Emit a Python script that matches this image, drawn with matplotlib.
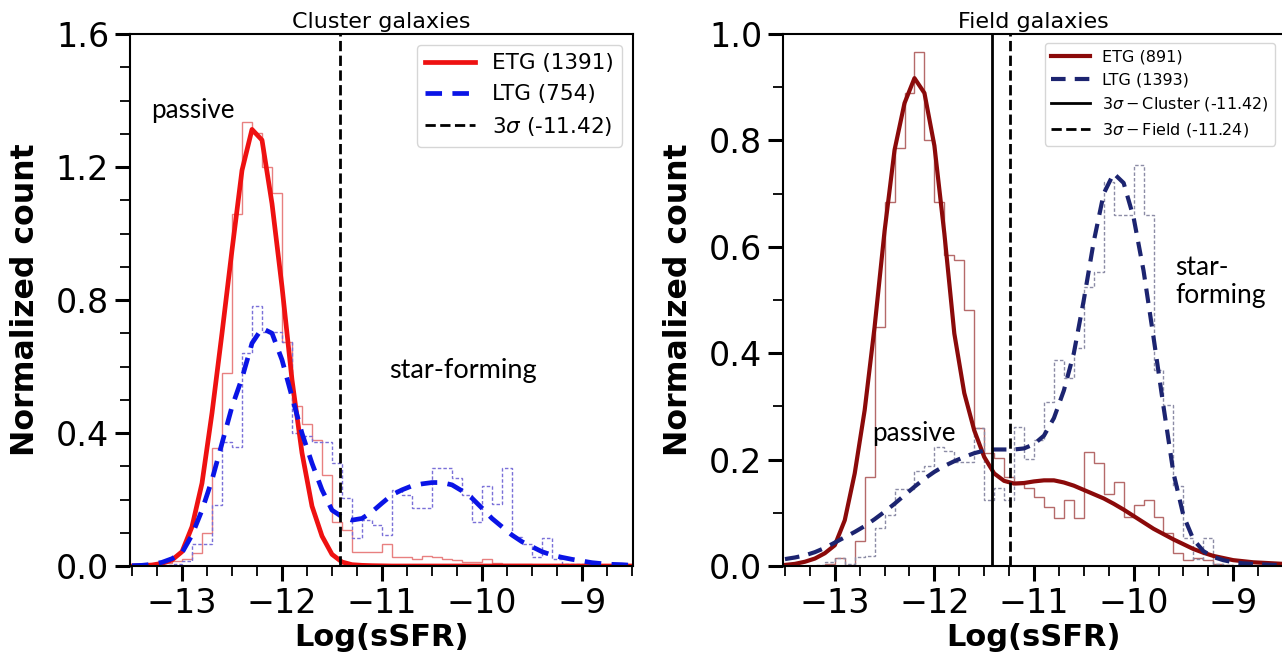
import numpy as np
import matplotlib
matplotlib.use("Agg")
import matplotlib.pyplot as plt
from matplotlib.ticker import MultipleLocator

# histogram bins (0.1 dex) and grid of the smoothed curves
bin_edges = np.round(np.arange(-13.4, -8.85, 0.1), 1)
curve_x = np.round(np.arange(-13.5, -8.45, 0.1), 1)

# cluster sample
cl_etg_hist = [0.0, 0.005, 0.008, 0.015, 0.02, 0.04, 0.098, 0.354, 0.581, 1.058,
               1.336, 1.301, 1.199, 1.123, 0.675, 0.481, 0.426, 0.378, 0.274, 0.132,
               0.108, 0.043, 0.043, 0.043, 0.066, 0.028, 0.028, 0.020, 0.030, 0.028,
               0.022, 0.018, 0.012, 0.012, 0.020, 0.008, 0.006, 0.005, 0.005, 0.004,
               0.003, 0.003, 0.002, 0.002, 0.0]
cl_ltg_hist = [0.0, 0.003, 0.003, 0.005, 0.016, 0.066, 0.066, 0.183, 0.374, 0.359,
               0.640, 0.782, 0.705, 0.705, 0.675, 0.399, 0.390, 0.374, 0.374, 0.309,
               0.204, 0.083, 0.138, 0.123, 0.093, 0.229, 0.214, 0.174, 0.174, 0.294,
               0.294, 0.264, 0.214, 0.133, 0.241, 0.186, 0.294, 0.088, 0.066, 0.028,
               0.084, 0.020, 0.005, 0.005, 0.005]
cl_etg_kde = [0.0, 0.001, 0.003, 0.008, 0.018, 0.043, 0.118, 0.249, 0.46, 0.70,
              0.95, 1.19, 1.313, 1.281, 1.09, 0.84, 0.56, 0.34, 0.18, 0.09,
              0.035, 0.012, 0.004, 0.002, 0.001, 0.0005, 0.0, 0.0, 0.0, 0.0,
              0.0, 0.0, 0.0, 0.0, 0.0, 0.0, 0.0, 0.0, 0.0, 0.0,
              0.0, 0.0, 0.0, 0.0, 0.0, 0.0, 0.0, 0.0, 0.0, 0.0, 0.0]
cl_ltg_kde = [0.001, 0.002, 0.005, 0.011, 0.022, 0.040, 0.093, 0.168, 0.259, 0.369,
              0.479, 0.565, 0.670, 0.715, 0.700, 0.620, 0.509, 0.399, 0.309, 0.229,
              0.168, 0.148, 0.138, 0.143, 0.163, 0.189, 0.214, 0.229, 0.241, 0.247,
              0.251, 0.251, 0.244, 0.226, 0.204, 0.174, 0.143, 0.118, 0.093, 0.073,
              0.058, 0.043, 0.033, 0.026, 0.020, 0.015, 0.010, 0.007, 0.005, 0.004, 0.002]

# field sample
fd_etg_hist = [0.0, 0.0, 0.0, 0.003, 0.015, 0.002, 0.047, 0.168, 0.450, 0.685,
               0.785, 0.889, 0.966, 0.800, 0.685, 0.585, 0.575, 0.482, 0.259, 0.213,
               0.203, 0.168, 0.155, 0.146, 0.130, 0.111, 0.090, 0.125, 0.090, 0.215,
               0.194, 0.136, 0.157, 0.093, 0.114, 0.124, 0.093, 0.062, 0.024, 0.011,
               0.015, 0.011, 0.003, 0.002, 0.0]
fd_ltg_hist = [0.0, 0.0, 0.002, 0.008, 0.015, 0.003, 0.016, 0.018, 0.072, 0.095,
               0.145, 0.145, 0.179, 0.188, 0.223, 0.216, 0.196, 0.196, 0.259, 0.124,
               0.146, 0.124, 0.261, 0.202, 0.237, 0.309, 0.387, 0.353, 0.409, 0.525,
               0.553, 0.722, 0.660, 0.660, 0.754, 0.660, 0.368, 0.303, 0.150, 0.052,
               0.014, 0.052, 0.003, 0.002, 0.0]
fd_etg_kde = [0.002, 0.004, 0.008, 0.014, 0.024, 0.039, 0.086, 0.174, 0.293, 0.450,
              0.630, 0.782, 0.870, 0.917, 0.889, 0.790, 0.625, 0.437, 0.325, 0.255,
              0.205, 0.174, 0.160, 0.155, 0.156, 0.159, 0.161, 0.161, 0.157, 0.151,
              0.143, 0.135, 0.127, 0.117, 0.106, 0.094, 0.082, 0.070, 0.060, 0.050,
              0.041, 0.032, 0.025, 0.019, 0.015, 0.011, 0.009, 0.007, 0.006, 0.005, 0.004]
fd_ltg_kde = [0.013, 0.016, 0.020, 0.026, 0.034, 0.044, 0.054, 0.064, 0.075, 0.088,
              0.102, 0.117, 0.133, 0.149, 0.164, 0.177, 0.188, 0.197, 0.205, 0.212,
              0.217, 0.219, 0.219, 0.219, 0.221, 0.229, 0.245, 0.278, 0.330, 0.400,
              0.500, 0.610, 0.700, 0.738, 0.720, 0.655, 0.555, 0.430, 0.300, 0.175,
              0.095, 0.050, 0.028, 0.017, 0.011, 0.007, 0.005, 0.004, 0.003, 0.002, 0.002]

cut_cluster = -11.42
cut_field = -11.24
n_cl = (1391, 754)
n_fd = (891, 1393)

ann_font = "Lato"

fig = plt.figure(figsize=(12.82, 6.57), dpi=100)
ax1 = fig.add_axes([130 / 1282, 91 / 657, 503 / 1282, 532 / 657])
ax2 = fig.add_axes([783 / 1282, 91 / 657, 501 / 1282, 532 / 657])


def style_axes(ax, ymax, ymajor):
    ax.set_xlim(-13.52, -8.49)
    ax.set_ylim(0, ymax)
    ax.xaxis.set_major_locator(MultipleLocator(1))
    ax.xaxis.set_minor_locator(MultipleLocator(0.25))
    ax.yaxis.set_major_locator(MultipleLocator(ymajor))
    ax.yaxis.set_minor_locator(MultipleLocator(0.1))
    ax.tick_params(which="major", length=11, width=2.2, labelsize=24, pad=4)
    ax.tick_params(which="minor", length=7, width=1.3)
    for s in ax.spines.values():
        s.set_linewidth(1.5)
    ax.set_xlabel("Log(sSFR)", fontsize=22, fontweight="bold", labelpad=2)
    ax.set_ylabel("Normalized count", fontsize=22.7, fontweight="bold", labelpad=11)


# --- cluster galaxies
ax1.stairs(cl_etg_hist, bin_edges, color="#e88080", lw=1.0)
ax1.stairs(cl_ltg_hist, bin_edges, color="#7a70d8", lw=1.0, linestyle=(0, (2.5, 1.5)))
ax1.plot(curve_x, cl_etg_kde, color="#ee1111", lw=3.4, label=f"ETG ({n_cl[0]})")
ax1.plot(curve_x, cl_ltg_kde, color="#0a14e6", lw=3.4, linestyle=(0, (3.5, 2.2)),
         label=f"LTG ({n_cl[1]})")
ax1.axvline(cut_cluster, color="black", lw=2, linestyle="--",
            label=r"$3\sigma$ (-11.42)")
style_axes(ax1, 1.6, 0.4)
ax1.set_title("Cluster galaxies", fontsize=16, pad=4)
ax1.legend(loc="upper right", fontsize=15.5, handlelength=2.3, borderaxespad=0.5)
ax1.text(-12.89, 1.371, "passive", fontsize=18.7, family=ann_font, ha="center", va="center")
ax1.text(-10.19, 0.589, "star-forming", fontsize=19.5, family=ann_font, ha="center", va="center")

# --- field galaxies
ax2.stairs(fd_etg_hist, bin_edges, color="#b56a6a", lw=1.0)
ax2.stairs(fd_ltg_hist, bin_edges, color="#8c8ca6", lw=1.0, linestyle=(0, (2.5, 1.5)))
ax2.plot(curve_x, fd_etg_kde, color="#8b0a0a", lw=3.0, label=f"ETG ({n_fd[0]})")
ax2.plot(curve_x, fd_ltg_kde, color="#1c2470", lw=3.0, linestyle=(0, (3.5, 2.2)),
         label=f"LTG ({n_fd[1]})")
ax2.axvline(cut_cluster, color="black", lw=2, label=r"$3\sigma-\mathrm{Cluster}$ (-11.42)")
ax2.axvline(cut_field, color="black", lw=2, linestyle="--",
            label=r"$3\sigma-\mathrm{Field}$ (-11.24)")
style_axes(ax2, 1.0, 0.2)
ax2.set_title("Field galaxies", fontsize=16, pad=4)
ax2.legend(loc="upper right", fontsize=11.5, handlelength=2.4, borderaxespad=0.55)
ax2.text(-12.21, 0.25, "passive", fontsize=18.7, family=ann_font, ha="center", va="center")
ax2.text(-9.58, 0.534, "star-\nforming", fontsize=19, family=ann_font, ha="left",
         va="center", linespacing=1.15)

fig.savefig("out.png", dpi=100)
